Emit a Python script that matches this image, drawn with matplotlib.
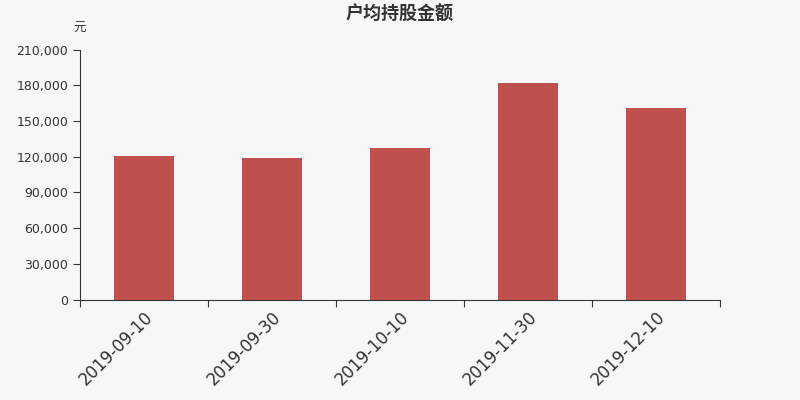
import matplotlib.pyplot as plt
from matplotlib.ticker import FuncFormatter

plt.rcParams['font.family'] = ['Noto Sans CJK SC', 'DejaVu Sans']

# data
dates = ['2019-09-10', '2019-09-30', '2019-10-10', '2019-11-30', '2019-12-10']
amounts = [121000, 119300, 127500, 182000, 161200]

bg = '#f7f7f7'
fig = plt.figure(figsize=(8, 4), dpi=100, facecolor=bg)
ax = fig.add_axes([0.1, 0.251, 0.8, 0.625], facecolor=bg)

pos = list(range(len(dates)))
ax.bar(pos, amounts, width=0.47, color='#c0504d')

ax.set_xlim(-0.5, len(dates) - 0.5)
ax.set_ylim(0, 210000)
ax.set_yticks(range(0, 210001, 30000))
ax.yaxis.set_major_formatter(FuncFormatter(lambda v, p: f'{int(v):,}'))
for lbl in ax.get_yticklabels():
    lbl.set_family('DejaVu Sans')

# boundary ticks + centred labels
ax.set_xticks([p - 0.5 for p in pos] + [len(dates) - 0.5])
ax.set_xticklabels([])
ax.set_xticks(pos, minor=True)
ax.set_xticklabels(dates, minor=True, rotation=45, ha='right', rotation_mode='anchor',
                   fontsize=12, color='#333333', family='DejaVu Sans')
ax.tick_params(axis='x', which='minor', length=0, pad=6)
ax.tick_params(axis='x', which='major', length=5, color='#333333')
ax.tick_params(axis='y', length=5, color='#333333', labelsize=9, labelcolor='#333333')
for lbl in ax.get_yticklabels():
    lbl.set_family('DejaVu Sans')

for s in ['top', 'right']:
    ax.spines[s].set_visible(False)
for s in ['left', 'bottom']:
    ax.spines[s].set_color('#333333')

fig.text(0.5, 0.965, '户均持股金额', ha='center', va='center', fontsize=13,
         fontweight='bold', color='#333333')
fig.text(0.1, 0.93, '元', ha='center', va='center', fontsize=9, color='#333333')

fig.savefig('out.png', dpi=100, facecolor=bg)
